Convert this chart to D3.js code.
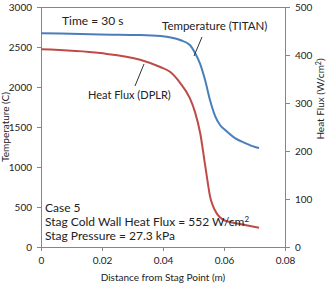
<!DOCTYPE html>
<html><head><meta charset="utf-8">
<script src="https://cdn.jsdelivr.net/npm/d3@7"></script>
<style>
body{margin:0;background:#fff;}
svg text{font-family:Lato,"Liberation Sans",sans-serif;fill:#222;}
</style></head>
<body><svg id="c" width="330" height="287"></svg>
<script>
const distance = [0, 0.0063, 0.0194, 0.0325, 0.0391, 0.0456, 0.0488, 0.0505, 0.0522, 0.0538, 0.0554, 0.0571, 0.0587, 0.0604, 0.0636, 0.0669, 0.0702, 0.0715];
const temperature = [2671, 2668, 2656, 2650, 2637, 2587, 2525, 2425, 2287, 2087, 1837, 1637, 1525, 1462, 1362, 1300, 1250, 1237];
const hfDistance = [0, 0.0194, 0.0325, 0.0391, 0.0423, 0.0456, 0.0488, 0.0505, 0.0522, 0.0538, 0.0548, 0.0554, 0.0564, 0.0577, 0.0594, 0.0620, 0.0669, 0.0715];
const heatFlux = [412, 404, 390, 375, 365, 342, 310, 281, 237, 171, 129, 106, 85, 69, 58, 52, 46, 40];
const xTicks = [0, 0.02, 0.04, 0.06, 0.08];
const tTicks = [0, 500, 1000, 1500, 2000, 2500, 3000];
const hTicks = [0, 100, 200, 300, 400, 500];

const svg = d3.select("#c");
const L = 41, R = 285, T = 7, B = 247;
const x = d3.scaleLinear().domain([0, 0.08]).range([L, R]);
const yT = d3.scaleLinear().domain([0, 3000]).range([B, T]);
const yH = d3.scaleLinear().domain([0, 500]).range([B, T]);
const axisCol = "#868686";

svg.append("line").attr("x1", L).attr("x2", R).attr("y1", T + 0.5).attr("y2", T + 0.5).attr("stroke", axisCol);

function styleAxis(g){
  g.select(".domain").attr("stroke", axisCol);
  g.selectAll(".tick line").attr("stroke", axisCol);
  g.selectAll(".tick text").attr("fill", "#333").style("font-size", "10px");
}
svg.append("g").attr("transform", `translate(0,${B})`)
  .call(d3.axisBottom(x).tickValues(xTicks).tickFormat(d => d === 0 ? "0" : d3.format(".2f")(d)).tickSizeOuter(0).tickSize(4).tickPadding(6))
  .call(styleAxis);
svg.append("g").attr("transform", `translate(${L},0)`)
  .call(d3.axisLeft(yT).tickValues(tTicks).tickFormat(d3.format("d")).tickSizeOuter(0).tickSize(4).tickPadding(5))
  .call(styleAxis);
svg.append("g").attr("transform", `translate(${R},0)`)
  .call(d3.axisRight(yH).tickValues(hTicks).tickFormat(d3.format("d")).tickSizeOuter(0).tickSize(5).tickPadding(5))
  .call(styleAxis);

const lineT = d3.line().x((d, i) => x(distance[i])).y(d => yT(d)).curve(d3.curveMonotoneX);
const lineH = d3.line().x((d, i) => x(hfDistance[i])).y(d => yH(d)).curve(d3.curveMonotoneX);
svg.append("path").attr("d", lineH(heatFlux)).attr("fill", "none").attr("stroke", "#be4b48").attr("stroke-width", 2);
svg.append("path").attr("d", lineT(temperature)).attr("fill", "none").attr("stroke", "#4a7ebb").attr("stroke-width", 2);

svg.append("text").attr("transform", `translate(9,127) rotate(-90)`).attr("text-anchor", "middle").style("font-size", "10px").text("Temperature (C)");
const rt = svg.append("text").attr("transform", `translate(324,99) rotate(-90)`).attr("text-anchor", "middle").style("font-size", "10px");
rt.append("tspan").text("Heat Flux (W/cm");
rt.append("tspan").attr("dy", -3).style("font-size", "7px").text("2");
rt.append("tspan").attr("dy", 3).text(")");
svg.append("text").attr("x", 163).attr("y", 281).attr("text-anchor", "middle").style("font-size", "10px").text("Distance from Stag Point (m)");

svg.append("text").attr("x", 62).attr("y", 25).style("font-size", "12px").text("Time = 30 s");
svg.append("text").attr("x", 162).attr("y", 30).style("font-size", "11.5px").text("Temperature (TITAN)");
svg.append("line").attr("x1", 202).attr("y1", 37).attr("x2", 194).attr("y2", 56).attr("stroke", "#333").attr("stroke-width", 1);
svg.append("text").attr("x", 88).attr("y", 99).style("font-size", "11px").text("Heat Flux (DPLR)");
svg.append("line").attr("x1", 135).attr("y1", 86).attr("x2", 144).attr("y2", 64).attr("stroke", "#333").attr("stroke-width", 1);

svg.append("text").attr("x", 45).attr("y", 212).style("font-size", "12px").text("Case 5");
const s2 = svg.append("text").attr("x", 45).attr("y", 226).style("font-size", "12px");
s2.append("tspan").text("Stag Cold Wall Heat Flux = 552 W/cm");
s2.append("tspan").attr("dy", -4).style("font-size", "8px").text("2");
svg.append("text").attr("x", 45).attr("y", 240).style("font-size", "12px").text("Stag Pressure = 27.3 kPa");
</script></body></html>
